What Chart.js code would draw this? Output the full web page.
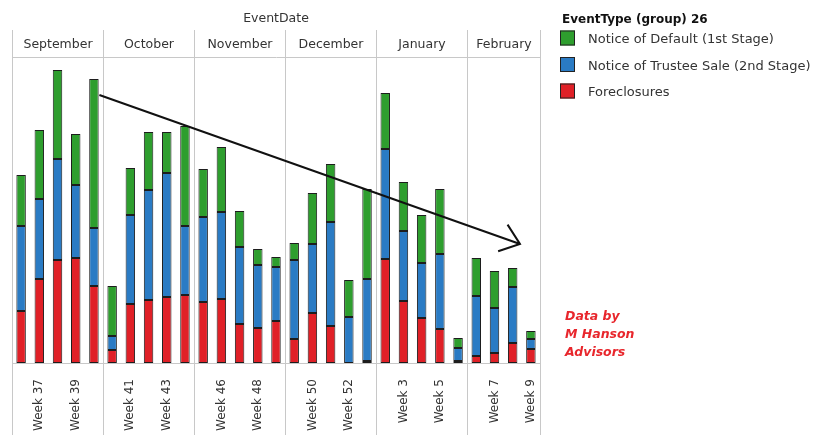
<!DOCTYPE html>
<html>
<head>
<meta charset="utf-8">
<title>Foreclosure activity by week</title>
<script src="https://cdn.jsdelivr.net/npm/chart.js@4.4.0/dist/chart.umd.min.js"></script>
<style>
  body { margin: 0; background: #fff; }
  #wrap { width: 815px; height: 435px; }
</style>
</head>
<body>
<div id="wrap"><canvas id="myChart" width="815" height="435"></canvas></div>
<script>
// one bar per week, grouped by the month the week falls in
const weeks = [
  'Week 36', 'Week 37', 'Week 38', 'Week 39', 'Week 40',
  'Week 40', 'Week 41', 'Week 42', 'Week 43', 'Week 44',
  'Week 45', 'Week 46', 'Week 47', 'Week 48', 'Week 49',
  'Week 49', 'Week 50', 'Week 51', 'Week 52', 'Week 1',
  'Week 2', 'Week 3', 'Week 4', 'Week 5', 'Week 6',
  'Week 6', 'Week 7', 'Week 8', 'Week 9'
];
const shownWeeks = ['Week 37', 'Week 39', 'Week 41', 'Week 43', 'Week 46', 'Week 48',
  'Week 50', 'Week 52', 'Week 3', 'Week 5', 'Week 7', 'Week 9'];
const months = ['September', 'October', 'November', 'December', 'January', 'February'];
const weeksPerMonth = [5, 5, 5, 5, 5, 4];

const foreclosures = [52, 84, 103, 105, 77, 13, 59, 63, 66, 68, 61, 64, 39, 35, 42,
  24, 50, 37, 0, 2, 104, 62, 45, 34, 2, 7, 10, 20, 14];
const trusteeSales = [85, 80, 101, 73, 58, 14, 89, 110, 124, 69, 85, 87, 77, 63, 54,
  79, 69, 104, 46, 82, 110, 70, 55, 75, 13, 60, 45, 56, 10];
const defaults = [51, 69, 89, 51, 149, 50, 47, 58, 41, 100, 48, 65, 36, 16, 10,
  17, 51, 58, 37, 90, 56, 49, 48, 65, 10, 38, 37, 19, 8];

const seriesNames = ['Notice of Default (1st Stage)', 'Notice of Trustee Sale (2nd Stage)', 'Foreclosures'];
const seriesColors = ['#2e9e2e', '#2a7bc4', '#e02027'];

// trend arrow, [week index, count] at each end
const trendFrom = [4.3, 268];
const trendTo = [27.4, 119];

const gridColor = '#c8c8c8';
const font = 'DejaVu Sans';

// month header, separators, legend, trend arrow and the source note
const extras = {
  id: 'extras',
  afterDraw(chart) {
    const ctx = chart.ctx;
    const area = chart.chartArea;
    const x = chart.scales.x;
    const y = chart.scales.y;
    ctx.save();

    const edges = [-0.5];
    let n = 0;
    weeksPerMonth.forEach(function (c) { n += c; edges.push(n - 0.5); });
    const px = edges.map(function (e) { return Math.round(x.getPixelForValue(e)) + 0.5; });

    ctx.strokeStyle = gridColor;
    ctx.lineWidth = 1;
    px.forEach(function (p) {
      ctx.beginPath();
      ctx.moveTo(p, 30);
      ctx.lineTo(p, chart.height);
      ctx.stroke();
    });
    ctx.beginPath();
    ctx.moveTo(px[0], area.top + 0.5);
    ctx.lineTo(px[px.length - 1], area.top + 0.5);
    ctx.stroke();

    ctx.fillStyle = '#333';
    ctx.textAlign = 'center';
    ctx.textBaseline = 'middle';
    ctx.font = '12.5px "' + font + '"';
    ctx.fillText('EventDate', (area.left + area.right) / 2, 19);
    months.forEach(function (m, i) {
      ctx.fillText(m, (px[i] + px[i + 1]) / 2, 45);
    });

    // legend
    ctx.textAlign = 'left';
    ctx.fillStyle = '#111';
    ctx.font = 'bold 12px "' + font + '"';
    ctx.fillText('EventType (group) 26', 562, 20);
    ctx.font = '13px "' + font + '"';
    seriesNames.forEach(function (name, i) {
      const cy = 38 + i * 26.5;
      ctx.fillStyle = seriesColors[i];
      ctx.fillRect(560, cy - 7.5, 15, 15);
      ctx.strokeStyle = '#222';
      ctx.strokeRect(560.5, cy - 7, 14, 14);
      ctx.fillStyle = '#333';
      ctx.fillText(name, 588, cy + 2);
    });

    // trend arrow
    const x0 = x.getPixelForValue(trendFrom[0]), y0 = y.getPixelForValue(trendFrom[1]);
    const x1 = x.getPixelForValue(trendTo[0]), y1 = y.getPixelForValue(trendTo[1]);
    const ang = Math.atan2(y1 - y0, x1 - x0);
    ctx.strokeStyle = '#111';
    ctx.lineWidth = 2;
    ctx.beginPath();
    ctx.moveTo(x0, y0);
    ctx.lineTo(x1, y1);
    ctx.moveTo(x1 - 23 * Math.cos(ang - 0.66), y1 - 23 * Math.sin(ang - 0.66));
    ctx.lineTo(x1, y1);
    ctx.lineTo(x1 - 23 * Math.cos(ang + 0.66), y1 - 23 * Math.sin(ang + 0.66));
    ctx.stroke();

    // source note
    ctx.fillStyle = '#e8262c';
    ctx.font = 'italic bold 12.5px "' + font + '"';
    ['Data by', 'M Hanson', 'Advisors'].forEach(function (t, i) {
      ctx.fillText(t, area.right + 25, 317 + i * 18);
    });
    ctx.restore();
  }
};

new Chart(document.getElementById('myChart'), {
  type: 'bar',
  data: {
    labels: weeks,
    datasets: [
      { label: seriesNames[2], data: foreclosures, backgroundColor: seriesColors[2] },
      { label: seriesNames[1], data: trusteeSales, backgroundColor: seriesColors[1] },
      { label: seriesNames[0], data: defaults, backgroundColor: seriesColors[0] }
    ]
  },
  options: {
    responsive: false,
    animation: false,
    devicePixelRatio: 1,
    layout: { padding: { left: 12, top: 57, right: 275, bottom: 0 } },
    datasets: {
      bar: {
        categoryPercentage: 1,
        barPercentage: 0.52,
        borderWidth: 1,
        borderColor: '#1d1d1d',
        borderSkipped: false
      }
    },
    plugins: {
      legend: { display: false },
      tooltip: { enabled: false }
    },
    scales: {
      x: {
        stacked: true,
        grid: { display: false },
        border: { display: true, color: gridColor },
        ticks: {
          autoSkip: false,
          maxRotation: 90,
          minRotation: 90,
          padding: 8,
          color: '#333',
          font: { family: font, size: 12 },
          callback: function (v, i) {
            return shownWeeks.includes(weeks[i]) ? weeks[i] : '';
          }
        },
        afterFit: function (s) { s.height = 72; }
      },
      y: { stacked: true, display: false, min: 0, max: 306 }
    }
  },
  plugins: [extras]
});
</script>
</body>
</html>
